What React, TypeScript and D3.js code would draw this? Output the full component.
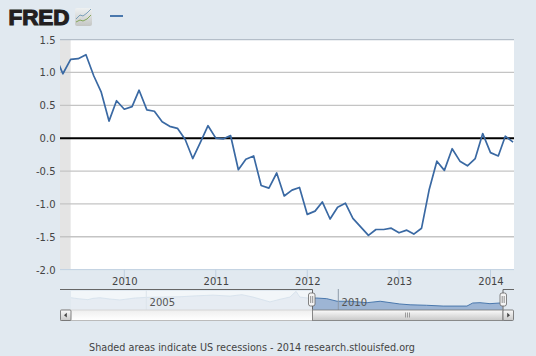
import React from "react";
import * as d3 from "d3";

const W = 536, H = 356;
const seriesStart = [2009, 3];
const seriesValues = [1.25, 0.98, 1.2, 1.21, 1.27, 0.95, 0.7, 0.26, 0.57, 0.44, 0.48, 0.73, 0.43, 0.41, 0.25, 0.18, 0.15, -0.02, -0.31, -0.06, 0.19, 0.0, -0.01, 0.04, -0.48, -0.32, -0.27, -0.72, -0.76, -0.53, -0.88, -0.79, -0.75, -1.16, -1.11, -0.97, -1.23, -1.05, -0.99, -1.22, -1.35, -1.48, -1.39, -1.39, -1.37, -1.44, -1.4, -1.46, -1.37, -0.79, -0.35, -0.49, -0.16, -0.35, -0.42, -0.31, 0.07, -0.22, -0.27, 0.03, -0.06];
const yTicks = [1.5, 1, 0.5, 0, -0.5, -1, -1.5, -2];
const xTicks = [2010, 2011, 2012, 2013, 2014];
const navYears = [2003.04, 2003.22, 2003.48, 2003.61, 2003.79, 2004.05, 2004.31, 2004.7, 2004.99, 2005.4, 2005.87, 2006.32, 2006.74, 2007.18, 2007.49, 2007.78, 2008.22, 2008.48, 2008.74, 2008.9, 2009.0, 2009.21, 2009.44, 2009.7, 2009.97, 2010.3, 2010.75, 2011.09, 2011.6, 2011.87, 2012.3, 2012.73, 2013.35, 2013.5, 2013.69, 2013.95, 2014.2, 2014.28];
const navValues = [1.8, 1.5, 1.2, 1.6, 1.8, 1.4, 1.1, 1.7, 1.9, 2.0, 2.1, 2.4, 2.6, 2.3, 2.75, 2.0, 0.5, 1.3, 2.0, 3.8, 2.0, 1.7, 1.7, 1.5, 0.7, 0.7, 0.25, 0.7, -0.15, -0.4, -0.55, -0.8, -0.8, 0.15, 0.25, -0.05, 0.15, 0.0];
const navTicks = [2005, 2010];
const recessionEnd = new Date(2009, 5, 1);

const BG = "#e1e9f0";
const LINE = "#3a69a3";
const FONT = "'DejaVu Sans', Verdana, sans-serif";
const L = 60, R = 514, T = 39.6, B = 269.6;

export default function App() {
  const x = d3.scaleTime()
    .domain([new Date(2010, 0, 1), new Date(2014, 0, 1)])
    .range([124.3, 490.5]);
  const y = d3.scaleLinear().domain([-2, 1.5]).range([B, T]);
  const dates = seriesValues.map((_, i) => new Date(seriesStart[0], seriesStart[1] + i, 1));
  const line = d3.line<number>().x((_, i) => x(dates[i])).y((d) => y(d));

  const nx = d3.scaleLinear().domain([2005, 2010]).range([146.3, 338.3]);
  const ny = d3.scaleLinear().domain([0, 3.8]).range([303.5, 291.3]);
  const navBase = 310;
  const navLine = d3.line<number>().x((_, i) => nx(navYears[i])).y((d) => ny(d));
  const navArea = d3.area<number>().x((_, i) => nx(navYears[i])).y0(navBase).y1((d) => ny(d));
  const hL = 312.5, hR = 503;

  return (
    <svg width={W} height={H} style={{ position: "absolute", left: 0, top: 0, display: "block" }} fontFamily={FONT}>
      <defs>
        <clipPath id="plot"><rect x={L} y={T - 2} width={R - L} height={B - T + 2} /></clipPath>
        <clipPath id="sel"><rect x={hL} y={285} width={hR - hL} height={26} /></clipPath>
        <clipPath id="unsel"><rect x={L} y={285} width={hL - L} height={26} /></clipPath>
        <linearGradient id="thumb" x1="0" y1="0" x2="0" y2="1">
          <stop offset="0" stopColor="#fbfbfb" /><stop offset="1" stopColor="#c8c8c8" />
        </linearGradient>
        <linearGradient id="track" x1="0" y1="0" x2="0" y2="1">
          <stop offset="0" stopColor="#eeeeee" /><stop offset="1" stopColor="#ffffff" />
        </linearGradient>
        <linearGradient id="icon" x1="0" y1="0" x2="0" y2="1">
          <stop offset="0" stopColor="#eef1f2" /><stop offset="1" stopColor="#c4c6c4" />
        </linearGradient>
      </defs>
      <rect width={W} height={H} fill={BG} />

      {/* logo */}
      <text x={8.5} y={24.6} fontFamily="'Liberation Sans', Arial, sans-serif" fontWeight={700} fontSize={22}
        textLength={61} lengthAdjust="spacingAndGlyphs" fill="#231f20" stroke="#231f20" strokeWidth={1.2}>FRED</text>
      <rect x={75} y={8} width={17} height={18} rx={2} fill="url(#icon)" />
      <path d="M76,19 L80,15 L83,16 L87,13 L91,9" fill="none" stroke="#5f8fb0" strokeWidth={0.8} />
      <path d="M76,22 L80,20 L83,21 L87,19 L91,15" fill="none" stroke="#6f9a3a" strokeWidth={0.8} />

      {/* legend */}
      <line x1={110} x2={123} y1={16} y2={16} stroke="#4a78ad" strokeWidth={2} />

      {/* plot */}
      <rect x={L} y={T} width={R - L} height={B - T} fill="#ffffff" />
      <rect x={L} y={T} width={x(recessionEnd) - L} height={B - T} fill="#e4e4e4" />
      {yTicks.map((t) => (
        t === -2 ? null :
        <line key={t} x1={L} x2={R} y1={y(t)} y2={y(t)}
          stroke={t === 0 ? "#000000" : t === 1.5 ? "#b4bec9" : "#c4c4c4"} strokeWidth={t === 0 ? 2 : 1.3} />
      ))}
      <line x1={L} x2={R} y1={B} y2={B} stroke="#c0d0e0" strokeWidth={1} />
      {xTicks.map((t) => {
        const px = x(new Date(t, 0, 1));
        return (
          <g key={t}>
            <line x1={px} x2={px} y1={B} y2={B + 10} stroke="#c0d0e0" strokeWidth={1} />
            <text x={px + 0.5} y={285.2} textAnchor="middle" fontSize={10} fill="#444444">{t}</text>
          </g>
        );
      })}
      {yTicks.map((t) => (
        <text key={t} x={55.5} y={y(t) + 4} textAnchor="end" fontSize={10} fill="#444444">{d3.format(".1f")(t).replace("−", "-")}</text>
      ))}
      <path d={line(seriesValues) ?? ""} fill="none" stroke={LINE} strokeWidth={1.7} strokeLinejoin="round" clipPath="url(#plot)" />

      {/* navigator */}
      <rect x={71} y={291} width={hL - 71} height={19} fill="#f2f6f9" />
      <g clipPath="url(#unsel)">
        <path d={navArea(navValues) ?? ""} fill="#e6ecf3" />
        <path d={navLine(navValues) ?? ""} fill="none" stroke="#d3dfeb" strokeWidth={0.8} />
      </g>
      <g clipPath="url(#sel)">
        <path d={navArea(navValues) ?? ""} fill="#9db5d4" />
        <path d={navLine(navValues) ?? ""} fill="none" stroke="#4a78ad" strokeWidth={1} />
      </g>
      {navTicks.map((t) => (
        <g key={t}>
          <line x1={nx(t)} x2={nx(t)} y1={289} y2={310} stroke={t < 2009 ? "#dde5ec" : "#8e9aa8"} strokeWidth={1} />
          <text x={nx(t) + 16} y={306} textAnchor="middle" fontSize={10} fill="#555555">{t}</text>
        </g>
      ))}
      <path d={`M${L},289.5 H${hL} V320.5`} fill="none" stroke="#666666" strokeWidth={1} />
      <path d={`M${hR},320.5 V289.5 H${R}`} fill="none" stroke="#666666" strokeWidth={1} />

      {/* scrollbar */}
      <rect x={71} y={310} width={hL - 71} height={10} fill="url(#track)" />
      <line x1={60} x2={hL} y1={310} y2={310} stroke="#d6d6d6" />
      <line x1={60} x2={hL} y1={320.5} y2={320.5} stroke="#bbbbbb" />
      <rect x={hL} y={310} width={hR - hL} height={10.5} fill="url(#thumb)" stroke="#777777" strokeWidth={0.8} />
      {[-2, 0, 2].map((d) => (
        <line key={d} x1={407.5 + d} x2={407.5 + d} y1={312.5} y2={317.5} stroke="#888888" strokeWidth={0.8} />
      ))}
      <rect x={60.5} y={310} width={10.5} height={10.5} rx={1} fill="url(#thumb)" stroke="#666666" strokeWidth={0.8} />
      <path d="M66.8,312.8 L64,315.2 L66.8,317.6 Z" fill="#444444" />
      <rect x={503} y={310} width={10.5} height={10.5} rx={1} fill="url(#thumb)" stroke="#666666" strokeWidth={0.8} />
      <path d="M507.2,312.8 L510,315.2 L507.2,317.6 Z" fill="#444444" />

      {/* handles */}
      {[hL - 1, hR].map((h) => (
        <g key={h}>
          <rect x={h - 3} y={293} width={6.5} height={13} rx={2} fill="#f4f4f4" stroke="#666666" strokeWidth={0.8} />
          <line x1={h - 0.8} x2={h - 0.8} y1={296} y2={303} stroke="#777777" strokeWidth={0.8} />
          <line x1={h + 1.2} x2={h + 1.2} y1={296} y2={303} stroke="#777777" strokeWidth={0.8} />
        </g>
      ))}

      <text x={89} y={351} fontSize={10} textLength={326} lengthAdjust="spacingAndGlyphs" fill="#444444">Shaded areas indicate US recessions - 2014 research.stlouisfed.org</text>
    </svg>
  );
}
